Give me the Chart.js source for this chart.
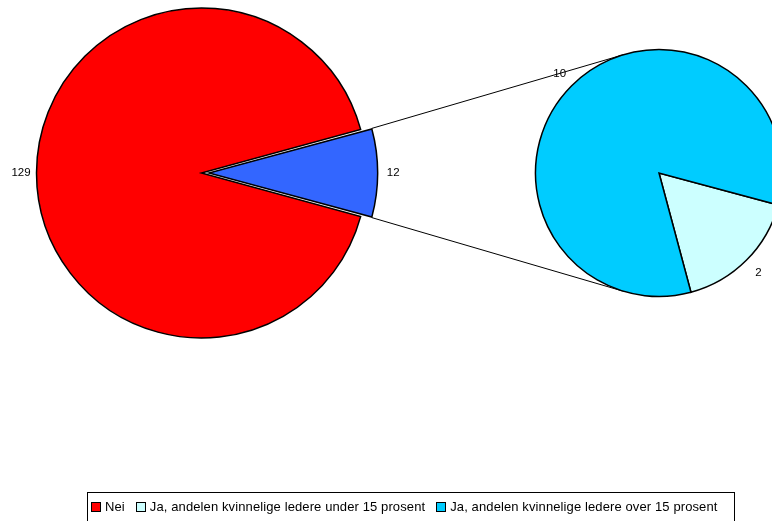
<!DOCTYPE html>
<html>
<head>
<meta charset="utf-8">
<title>Kvinnelige ledere</title>
<script src="https://cdn.jsdelivr.net/npm/chart.js@4/dist/chart.umd.min.js"></script>
<style>
  html, body { margin: 0; padding: 0; background: #fff; overflow: hidden; }
  #stage { position: relative; width: 772px; height: 521px; overflow: hidden; }
  #mainPie { position: absolute; left: 0; top: 0; }
  #subPie { position: absolute; left: 519px; top: 33px; }
  #legend {
    position: absolute; left: 87px; top: 492px; width: 648px; height: 40px;
    border: 1px solid #000; box-sizing: border-box;
    display: flex; align-items: center;
    padding: 0 0 11px 3px;
    font: 13px "Liberation Sans", Arial, sans-serif; letter-spacing: 0.11px; color: #000;
  }
  #legend .item { display: flex; align-items: center; margin-right: 11px; white-space: nowrap; line-height: 14px; }
  #legend .swatch { width: 8px; height: 8px; border: 1px solid #000; margin-right: 4px; }
</style>
</head>
<body>
<div id="stage">
  <canvas id="mainPie" width="772" height="521"></canvas>
  <canvas id="subPie" width="280" height="280"></canvas>
  <div id="legend"></div>
</div>
<script>
// Main pie: "Nei" against the combined "Ja" answers
const mainLabels = ['Nei', 'Ja'];
const mainValues = [129, 12];
const mainColors = ['#FF0000', '#3366FF'];

// Breakdown of the "Ja" answers shown in the side pie
const subLabels = [
  'Ja, andelen kvinnelige ledere under 15 prosent',
  'Ja, andelen kvinnelige ledere over 15 prosent'
];
const subValues = [2, 10];
const subColors = ['#CCFFFF', '#00CCFF'];

// Legend entries in display order
const legendLabels = ['Nei', subLabels[0], subLabels[1]];
const legendColors = [mainColors[0], subColors[0], subColors[1]];

const LABEL_FONT = '11.5px "Liberation Sans", Arial, sans-serif';

// Geometry of an arc as Chart.js draws it, including the explode offset
function arcShape(arc) {
  const p = arc.getProps(['x', 'y', 'startAngle', 'endAngle', 'outerRadius', 'circumference'], true);
  const t = (arc.options.offset || 0) / 4;
  const fix = 1 - Math.sin(Math.min(Math.PI, p.circumference || 0));
  const mid = (p.startAngle + p.endAngle) / 2;
  return {
    cx: p.x + Math.cos(mid) * t,
    cy: p.y + Math.sin(mid) * t,
    r: p.outerRadius + t * fix,
    start: p.startAngle,
    end: p.endAngle,
    mid: mid
  };
}

// Value labels placed just outside each slice
const valueLabels = {
  id: 'valueLabels',
  afterDatasetsDraw(chart, args, opts) {
    const ctx = chart.ctx;
    const meta = chart.getDatasetMeta(0);
    const values = chart.data.datasets[0].data;
    ctx.save();
    ctx.font = LABEL_FONT;
    ctx.fillStyle = '#000';
    ctx.textAlign = 'center';
    ctx.textBaseline = 'middle';
    meta.data.forEach((arc, i) => {
      const s = arcShape(arc);
      const d = s.r + opts.gap;
      ctx.fillText(String(values[i]), s.cx + Math.cos(s.mid) * d, s.cy + Math.sin(s.mid) * d);
    });
    ctx.restore();
  }
};

const commonOptions = {
  responsive: false,
  animation: false,
  events: [],
  plugins: { legend: { display: false }, tooltip: { enabled: false } }
};

// Side pie
const subCanvas = document.getElementById('subPie');
const subChart = new Chart(subCanvas, {
  type: 'pie',
  data: {
    labels: subLabels,
    datasets: [{
      data: subValues,
      backgroundColor: subColors,
      borderColor: '#000',
      borderWidth: 1.5,
      borderJoinStyle: 'miter'
    }]
  },
  options: {
    ...commonOptions,
    layout: { padding: 0 },
    radius: 123.5,
    rotation: 105,
    plugins: { ...commonOptions.plugins, valueLabels: { gap: 17 } }
  },
  plugins: [valueLabels]
});

// Lines joining the exploded slice to the side pie (tangent to its rim)
const connectorLines = {
  id: 'connectorLines',
  afterDatasetsDraw(chart) {
    const mainCanvas = chart.canvas;
    const sArc = subChart.getDatasetMeta(0).data[0];
    const C = {
      x: sArc.x + subCanvas.offsetLeft - mainCanvas.offsetLeft,
      y: sArc.y + subCanvas.offsetTop - mainCanvas.offsetTop
    };
    const R = sArc.outerRadius;
    const s = arcShape(chart.getDatasetMeta(0).data[1]);
    const corners = [
      { a: s.start, sign: 1 },
      { a: s.end, sign: -1 }
    ];
    const ctx = chart.ctx;
    ctx.save();
    ctx.strokeStyle = '#000';
    ctx.lineWidth = 1;
    corners.forEach(c => {
      const px = s.cx + Math.cos(c.a) * s.r;
      const py = s.cy + Math.sin(c.a) * s.r;
      const d = Math.hypot(px - C.x, py - C.y);
      const theta = Math.atan2(py - C.y, px - C.x);
      const alpha = Math.acos(Math.min(1, R / d));
      const ta = theta + c.sign * alpha;
      ctx.beginPath();
      ctx.moveTo(px, py);
      ctx.lineTo(C.x + Math.cos(ta) * R, C.y + Math.sin(ta) * R);
      ctx.stroke();
    });
    ctx.restore();
  }
};

// Main pie
const mainTotal = mainValues.reduce((a, b) => a + b, 0);
const mainChart = new Chart(document.getElementById('mainPie'), {
  type: 'pie',
  data: {
    labels: mainLabels,
    datasets: [{
      data: mainValues,
      backgroundColor: mainColors,
      borderColor: '#000',
      borderWidth: 1.5,
      borderJoinStyle: 'miter',
      offset: [0, 30]
    }]
  },
  options: {
    ...commonOptions,
    layout: { padding: { left: 0, top: 0, right: 369, bottom: 175 } },
    radius: 165,
    rotation: 90 + 180 * mainValues[1] / mainTotal,
    plugins: { ...commonOptions.plugins, valueLabels: { gap: 15.5 } }
  },
  plugins: [valueLabels, connectorLines]
});

// Legend
const legendEl = document.getElementById('legend');
legendLabels.forEach((text, i) => {
  const item = document.createElement('div');
  item.className = 'item';
  const sw = document.createElement('span');
  sw.className = 'swatch';
  sw.style.background = legendColors[i];
  const label = document.createElement('span');
  label.textContent = text;
  item.appendChild(sw);
  item.appendChild(label);
  legendEl.appendChild(item);
});
</script>
</body>
</html>
